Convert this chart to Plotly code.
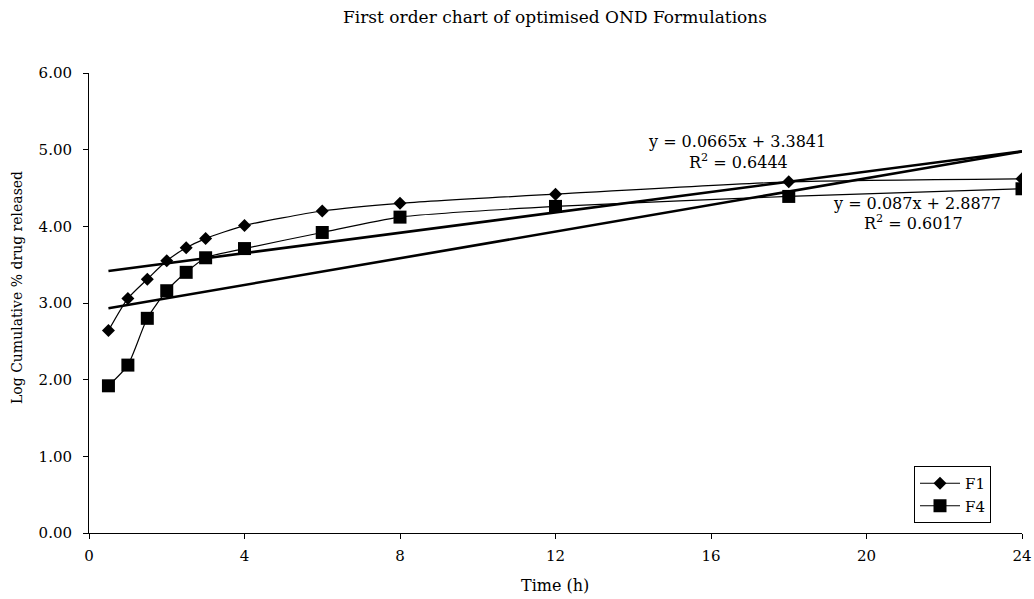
import plotly.graph_objects as go

time_h = [0.5, 1, 1.5, 2, 2.5, 3, 4, 6, 8, 12, 18, 24]
f1 = [2.64, 3.06, 3.31, 3.55, 3.72, 3.84, 4.01, 4.20, 4.30, 4.42, 4.58, 4.62]
f4 = [1.92, 2.19, 2.80, 3.16, 3.40, 3.59, 3.71, 3.92, 4.12, 4.26, 4.39, 4.49]

f1_slope, f1_int, f1_r2 = 0.0665, 3.3841, 0.6444
f4_slope, f4_int, f4_r2 = 0.087, 2.8877, 0.6017

x_ticks = [0, 4, 8, 12, 16, 20, 24]
y_ticks = [0, 1, 2, 3, 4, 5, 6]

FONT = "DejaVu Serif"
W, H = 1034, 599
L, R, T, B = 89, 1022, 73, 533


def px(xp):
    return (xp - L) / (R - L)


def py(yp):
    return (B - yp) / (B - T)


fig = go.Figure()

trend_x = [time_h[0], time_h[-1]]
for slope, inter in [(f1_slope, f1_int), (f4_slope, f4_int)]:
    fig.add_trace(go.Scatter(
        x=trend_x, y=[slope * v + inter for v in trend_x],
        mode="lines", line=dict(color="black", width=2.6),
        showlegend=False, hoverinfo="skip"))

fig.add_trace(go.Scatter(
    x=time_h, y=f1, name="F1", mode="lines+markers",
    line=dict(color="black", width=1.2, shape="spline", smoothing=0.6),
    marker=dict(symbol="diamond", size=10, color="black")))
fig.add_trace(go.Scatter(
    x=time_h, y=f4, name="F4", mode="lines+markers",
    line=dict(color="black", width=1.2, shape="spline", smoothing=0.6),
    marker=dict(symbol="square", size=13, color="black")))

annots = [
    (737, 141, f"y = {f1_slope}x + {f1_int}"),
    (738, 161, f"R<sup>2</sup> = {f1_r2}"),
    (917, 203, f"y = {f4_slope}x + {f4_int}"),
    (913, 222, f"R<sup>2</sup> = {f4_r2}"),
]
for xp, yp, txt in annots:
    fig.add_annotation(
        x=px(xp), y=py(yp), xref="paper", yref="paper",
        text=txt, showarrow=False, xanchor="center", yanchor="middle",
        font=dict(family=FONT, size=16, color="black"))

# axis titles
fig.add_annotation(x=px(555), y=py(585), xref="paper", yref="paper",
                   text="Time (h)", showarrow=False, xanchor="center", yanchor="middle",
                   font=dict(family=FONT, size=16, color="black"))
fig.add_annotation(x=px(17), y=py(288), xref="paper", yref="paper",
                   text="Log Cumulative % drug released", showarrow=False, textangle=-90,
                   xanchor="center", yanchor="middle",
                   font=dict(family=FONT, size=14, color="black"))

fig.update_layout(
    width=W, height=H,
    margin=dict(l=L, r=W - R, t=T, b=H - B),
    paper_bgcolor="white", plot_bgcolor="white",
    font=dict(family=FONT, size=15, color="black"),
    title=dict(text="First order chart of optimised OND Formulations",
               x=555 / W, xanchor="center",
               y=1 - 17 / H, yanchor="middle",
               font=dict(family=FONT, size=17, color="black")),
    legend=dict(x=px(914), y=py(466), xanchor="left", yanchor="top",
                bordercolor="black", borderwidth=1, bgcolor="white",
                font=dict(family=FONT, size=15, color="black"),
                itemwidth=40, tracegroupgap=0),
    showlegend=True,
)
fig.update_xaxes(range=[0, 24], tickvals=x_ticks, ticktext=[str(v) for v in x_ticks],
                 showgrid=False, zeroline=False, showline=True, linecolor="black",
                 linewidth=1, ticks="outside", ticklen=5, tickcolor="black",
                 tickfont=dict(family=FONT, size=15), automargin=False,
                 ticklabelstandoff=4)
fig.update_yaxes(range=[0, 6], tickvals=y_ticks, ticktext=[f"{v:.2f}" for v in y_ticks],
                 showgrid=False, zeroline=False, showline=True, linecolor="black",
                 linewidth=1, ticks="outside", ticklen=5, tickcolor="black",
                 tickfont=dict(family=FONT, size=15), automargin=False,
                 ticklabelstandoff=8)

fig.write_html("out.html")
